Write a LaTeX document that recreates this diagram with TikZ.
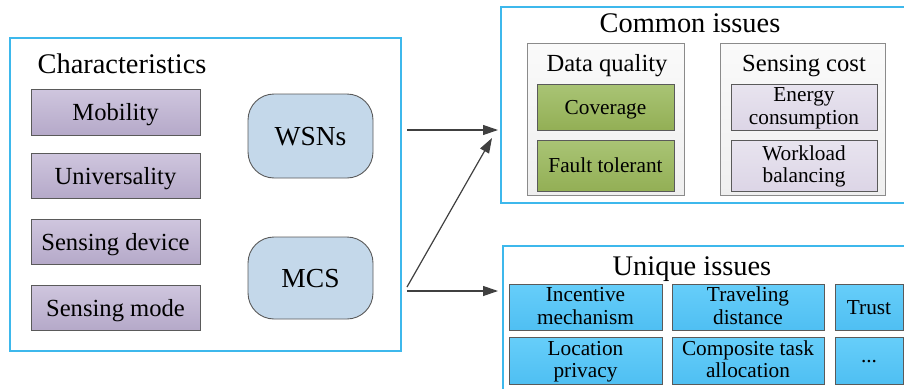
\documentclass[tikz,border=0pt]{standalone}
\usepackage{fontspec}
\setmainfont{Liberation Serif}
\usetikzlibrary{arrows.meta}
\definecolor{cyanline}{HTML}{3DB8EC}
\definecolor{boxline}{HTML}{5A5A5A}
\definecolor{purpT}{HTML}{CFC6DE}
\definecolor{purpB}{HTML}{B5A9C9}
\definecolor{wsnblue}{HTML}{C4D8EA}
\definecolor{greenT}{HTML}{A9C475}
\definecolor{greenB}{HTML}{93AF55}
\definecolor{lavT}{HTML}{E8E4EF}
\definecolor{lavB}{HTML}{DCD5E6}
\definecolor{grayT}{HTML}{FAFAFA}
\definecolor{grayB}{HTML}{EFEFEF}
\definecolor{skyT}{HTML}{66CEFA}
\definecolor{skyB}{HTML}{4FBFF2}
\definecolor{arrowgray}{HTML}{404040}
\newcommand{\twol}[2]{\raisebox{0pt}[34pt][0pt]{\begin{tabular}[b]{@{}c@{}}#1\\#2\end{tabular}}}
\tikzset{
  container/.style={draw=cyanline, line width=1.1pt, inner sep=0pt},
  ttl/.style={inner sep=0pt, anchor=base, font=\fontsize{28.4}{32}\selectfont},
  subttl/.style={inner sep=0pt, anchor=base, font=\fontsize{24.6}{28}\selectfont},
  charbox/.style={draw=boxline, line width=0.9pt, top color=purpT, bottom color=purpB,
    minimum width=169pt, inner sep=0pt, text height=17.2pt, text depth=0pt,
    font=\fontsize{24.6}{28}\selectfont},
  roundbox/.style={draw=boxline, line width=0.9pt, fill=wsnblue, rounded corners=26pt,
    minimum width=125pt, inner sep=0pt, text height=19.3pt, text depth=0pt,
    font=\fontsize{27.5}{30}\selectfont},
  graybox/.style={draw=boxline!70, line width=0.9pt, top color=grayT, bottom color=grayB,
    inner sep=0pt},
  greenbox/.style={draw=boxline, line width=0.9pt, top color=greenT, bottom color=greenB,
    minimum width=137pt, inner sep=0pt, text height=14.9pt, text depth=0pt,
    font=\fontsize{21.3}{22.5}\selectfont},
  lavbox/.style={draw=boxline, line width=0.9pt, top color=lavT, bottom color=lavB,
    minimum width=146pt, inner sep=0pt, font=\fontsize{21.3}{22.5}\selectfont},
  skybox/.style={draw=boxline, line width=0.9pt, top color=skyT, bottom color=skyB,
    inner sep=0pt, font=\fontsize{21.3}{22.5}\selectfont},
  conn/.style={draw=arrowgray, line width=1.2pt, -{Triangle[length=15pt,width=10pt]}},
}
\begin{document}
\begin{tikzpicture}[x=1pt,y=-1pt]
\useasboundingbox (0,0) rectangle (904,388);
% Characteristics container
\node[container, minimum width=391pt, minimum height=313pt] (charc) at (205.5,194.5) {};
\node[ttl] (charttl) at (122,73) {Characteristics};
\node[charbox, minimum height=46pt] (mob) at (115.5,112) {Mobility};
\node[charbox, minimum height=45pt] (uni) at (115.5,175.5) {Universality};
\node[charbox, minimum height=45pt] (sdev) at (115.5,241.5) {Sensing device};
\node[charbox, minimum height=45pt] (smode) at (115.5,307.5) {Sensing mode};
\node[roundbox, minimum height=84pt] (wsn) at (310.5,136) {WSNs};
\node[roundbox, minimum height=82pt] (mcs) at (310.5,278) {MCS};
% Common issues container
\node[container, minimum width=404pt, minimum height=196pt] (common) at (703,105) {};
\node[ttl] (commonttl) at (690,32) {Common issues};
\node[graybox, minimum width=157pt, minimum height=152pt] (dq) at (605.5,119) {};
\node[subttl] (dqttl) at (607,71.5) {Data quality};
\node[greenbox, minimum height=46pt] (cov) at (605.5,107) {Coverage};
\node[greenbox, minimum height=51pt] (fault) at (605.5,165.5) {Fault tolerant};
\node[graybox, minimum width=165pt, minimum height=152pt] (sc) at (802.5,119) {};
\node[subttl] (scttl) at (804,71.5) {Sensing cost};
\node[lavbox, minimum height=46pt] (energy) at (804,107) {\twol{Energy}{consumption}};
\node[lavbox, minimum height=51pt] (work) at (804,165.5) {\twol{Workload}{balancing}};
% Unique issues container
\node[container, minimum width=402pt, minimum height=154pt] (unique) at (704,323) {};
\node[ttl] (uniquettl) at (692,275) {Unique issues};
\node[skybox, minimum width=153pt, minimum height=46pt] (inc) at (585.5,307) {\twol{Incentive}{mechanism}};
\node[skybox, minimum width=152pt, minimum height=46pt] (trav) at (748,307) {\twol{Traveling}{distance}};
\node[skybox, text height=14.9pt, text depth=0pt, minimum width=68pt, minimum height=46pt] (trust) at (869,307) {Trust};
\node[skybox, minimum width=153pt, minimum height=47pt] (loc) at (585.5,360.5) {\twol{Location}{privacy}};
\node[skybox, minimum width=152pt, minimum height=47pt] (comp) at (748,360.5) {\twol{Composite task}{allocation}};
\node[skybox, text height=3pt, text depth=0pt, minimum width=68pt, minimum height=47pt] (dots) at (869,360.5) {...};
% arrows
\coordinate (a1s) at (407,130);
\coordinate (a1e) at (498,130);
\coordinate (a2s) at (407,287);
\coordinate (a2e) at (492,138);
\coordinate (a3s) at (407,291);
\coordinate (a3e) at (498,291);
\draw[conn] (a1s) -- (a1e);
\draw[conn] (a2s) -- (a2e);
\draw[conn] (a3s) -- (a3e);
\end{tikzpicture}
\end{document}
